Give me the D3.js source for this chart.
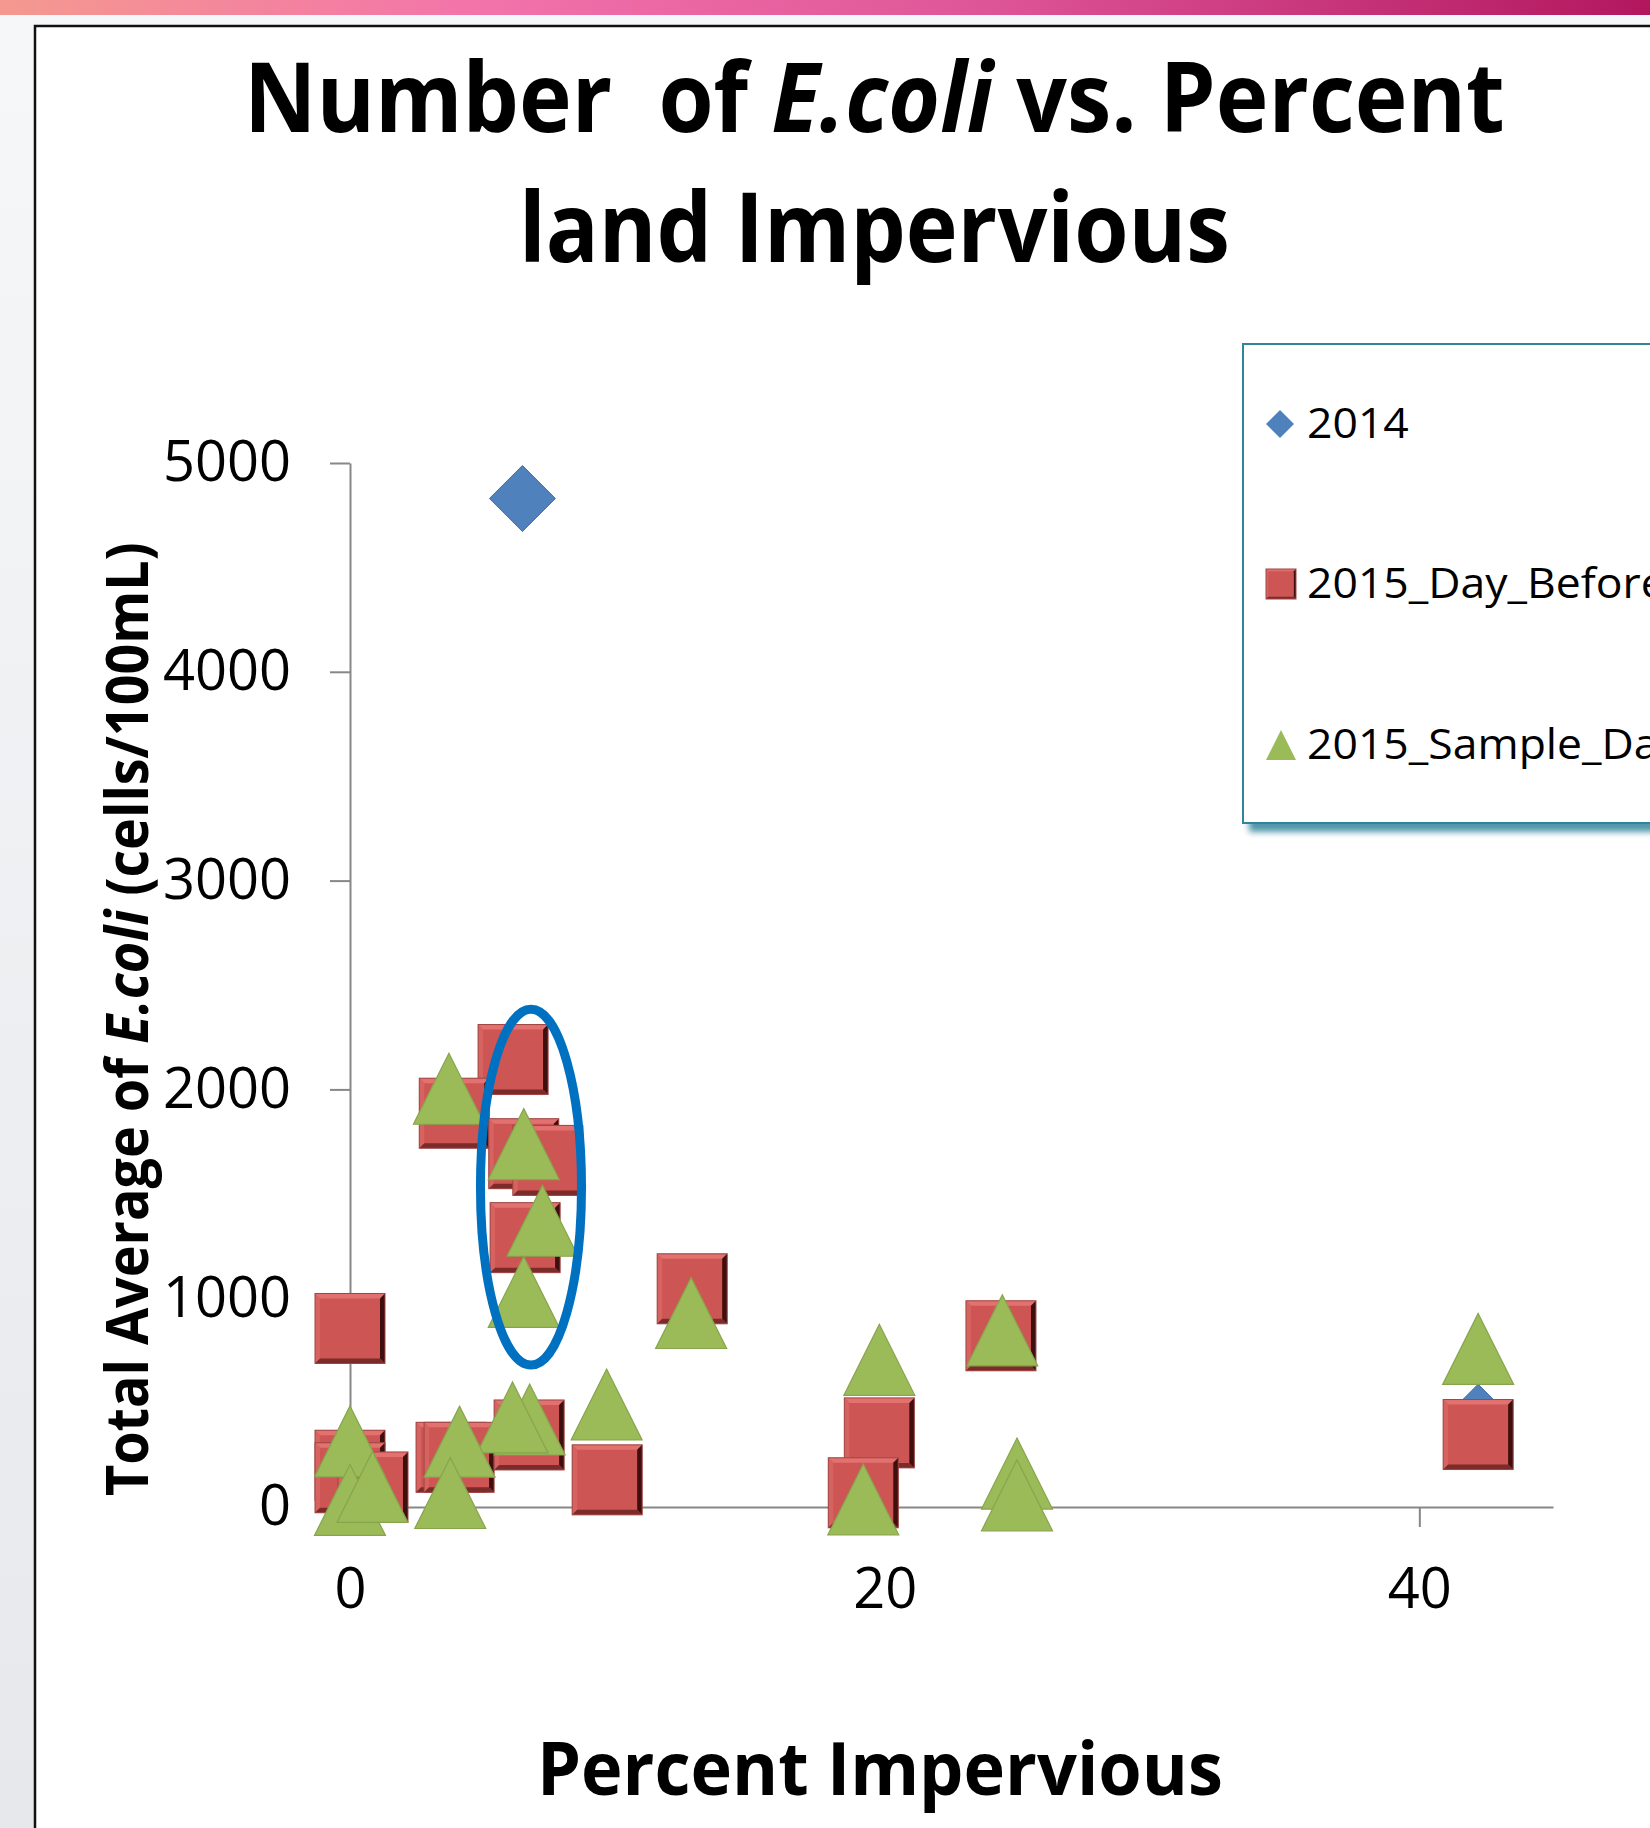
<!DOCTYPE html>
<html><head><meta charset="utf-8">
<script src="https://cdn.jsdelivr.net/npm/d3@7"></script>
<style>
html,body{margin:0;padding:0;background:#fff;overflow:hidden}
text{font-family:"Open Sans","Noto Sans",sans-serif;white-space:pre}
</style></head>
<body>
<svg id="c" width="1650" height="1828"></svg>
<script>
// ---------- data ----------
const seriesNames = ["2014", "2015_Day_Before", "2015_Sample_Day"];
const pct2014   = [6.45, 42.2];
const ecoli2014 = [4830, 430];
const pctDayBefore   = [0, 6.1, 3.9, 6.5, 7.4, 6.55, 12.8, 0, 0, 0.86, 3.78, 4.08, 6.7, 9.62, 19.8, 19.2, 24.35, 42.2];
const ecoliDayBefore = [855, 2143, 1886, 1692, 1660, 1290, 1045, 200, 140, 96, 238, 238, 345, 130, 355, 68, 820, 347];
const pctSampleDay   = [3.7, 6.5, 7.2, 6.5, 12.76, 9.6, 6.72, 6.08, 4.1, 3.75, 0, 0, 0.84, 19.8, 19.2, 24.4, 24.95, 24.95, 42.2];
const ecoliSampleDay = [2003, 1738, 1371, 1030, 929, 491, 419, 429, 313, 67, 314, 34, 96, 705, 36, 846, 160, 56, 757];
const xTicks = [0, 20, 40];
const yTicks = [0, 1000, 2000, 3000, 4000, 5000];
const xDomain = [0, 45];
const yDomain = [0, 5000];
// highlighted cluster (ellipse annotation) in data units: centre %, centre count, half-width %, half-height count
const highlight = {cx: 6.77, cy: 1532, rx: 1.89, ry: 852};

// ---------- drawing ----------
const svg = d3.select("#c");
const defs = svg.append("defs");
const g1 = defs.append("linearGradient").attr("id","topbar");
[["0%","#F5998F"],["30%","#F272AA"],["60%","#DE5597"],["100%","#B2175E"]].forEach(([o,c])=>g1.append("stop").attr("offset",o).attr("stop-color",c));
const g2 = defs.append("linearGradient").attr("id","side").attr("x1",0).attr("y1",0).attr("x2",0).attr("y2",1);
[["0%","#F6F7F8"],["100%","#E6E8EC"]].forEach(([o,c])=>g2.append("stop").attr("offset",o).attr("stop-color",c));
const blur = defs.append("filter").attr("id","blur").attr("x","-10%").attr("y","-10%").attr("width","130%").attr("height","130%");
blur.append("feGaussianBlur").attr("stdDeviation",3);

svg.append("rect").attr("width",1650).attr("height",1828).attr("fill","url(#side)");
svg.append("rect").attr("width",1650).attr("height",15).attr("fill","url(#topbar)");
svg.append("rect").attr("x",35).attr("y",26).attr("width",1700).attr("height",1900)
  .attr("fill","#fff").attr("stroke","#111").attr("stroke-width",2.5);

const x = d3.scaleLinear().domain(xDomain).range([350,1553]);
const y = d3.scaleLinear().domain(yDomain).range([1507,463]);

function fitH(sel, x0, x1){
  const bb = sel.node().getBBox();
  const s = (x1-x0)/bb.width;
  sel.attr("transform",`translate(${x0},0) scale(${s},1) translate(${-bb.x},0)`);
}

// title
const t1 = svg.append("text").attr("y",132).attr("font-size",97).attr("font-weight","bold").attr("fill","#000");
t1.append("tspan").text("Number  of ");
t1.append("tspan").attr("font-style","italic").text("E.coli");
t1.append("tspan").text(" vs. Percent");
fitH(t1, 244, 1505);
const t2 = svg.append("text").attr("y",262).attr("font-size",97).attr("font-weight","bold").attr("fill","#000").text("land Impervious");
fitH(t2, 519, 1230);

// axes
const yAxis = d3.axisLeft(y).tickValues(yTicks).tickSize(20).tickSizeOuter(0).tickPadding(39).tickFormat(d3.format("d"));
const xAxis = d3.axisBottom(x).tickValues(xTicks).tickSize(20).tickSizeOuter(0).tickPadding(41).tickFormat(d3.format("d"));
const ya = svg.append("g").attr("transform",`translate(${x(0)},0)`).call(yAxis);
const xa = svg.append("g").attr("transform",`translate(0,${y(0)})`).call(xAxis);
[ya,xa].forEach(a=>{
  a.select(".domain").attr("stroke","#878787").attr("stroke-width",2);
  a.selectAll(".tick line").attr("stroke","#878787").attr("stroke-width",2);
  a.selectAll(".tick text").attr("font-size",56).attr("fill","#000").attr("font-family","'Open Sans',sans-serif");
});

// axis titles
const xt = svg.append("text").attr("y",1795).attr("font-size",74).attr("font-weight","bold").text("Percent Impervious");
fitH(xt, 537, 1223);
const yt = svg.append("text").attr("font-size",60).attr("font-weight","bold");
yt.append("tspan").text("Total Average of ");
yt.append("tspan").attr("font-style","italic").text("E.coli");
yt.append("tspan").text(" (cells/100mL)");
{
  const bb = yt.node().getBBox();
  const s = (1496-542)/bb.width;
  yt.attr("transform",`translate(148,1496) rotate(-90) scale(${s},1) translate(${-bb.x},0)`);
}

// marker shapes
const SQ = 70, TRI = 71, DIA = 66;
function drawSquare(g, cx, cy, s){
  const h=s/2, l=cx-h, t=cy-h, r=cx+h, b=cy+h, e=Math.max(2, s/14);
  g.append("rect").attr("x",l).attr("y",t).attr("width",s).attr("height",s).attr("fill","#CD5654");
  g.append("polygon").attr("points",`${l},${t} ${r},${t} ${r-e},${t+e} ${l+e},${t+e}`).attr("fill","#E2716F");
  g.append("polygon").attr("points",`${l},${t} ${l+e},${t+e} ${l+e},${b-e} ${l},${b}`).attr("fill","#D66360");
  g.append("polygon").attr("points",`${r},${t} ${r},${b} ${r-e},${b-e} ${r-e},${t+e}`).attr("fill","#3E0F0E");
  g.append("polygon").attr("points",`${l},${b} ${r},${b} ${r-e},${b-e} ${l+e},${b-e}`).attr("fill","#7B2B29");
  g.append("rect").attr("x",l).attr("y",t).attr("width",s).attr("height",s).attr("fill","none").attr("stroke","#9E4644").attr("stroke-width",1);
}
function triPath(cx, cy, w, h){
  return `M${cx},${cy-h/2}L${cx+w/2},${cy+h/2}L${cx-w/2},${cy+h/2}Z`;
}
function diaPath(cx, cy, s){
  const h=s/2;
  return `M${cx},${cy-h}L${cx+h},${cy}L${cx},${cy+h}L${cx-h},${cy}Z`;
}

const plot = svg.append("g");
// 2014 diamonds
plot.selectAll("path.dia").data(pct2014.map((p,i)=>({p, v:ecoli2014[i]}))).join("path")
  .attr("class","dia").attr("d",d=>diaPath(x(d.p), y(d.v), DIA)).attr("fill","#4F81BD").attr("stroke","#466FA6").attr("stroke-width",1);
// 2015 day before squares
const sqData = pctDayBefore.map((p,i)=>({p, v:ecoliDayBefore[i]}));
sqData.forEach(d=>drawSquare(plot.append("g").attr("class","sq"), x(d.p), y(d.v), SQ));
// 2015 sample day triangles
plot.selectAll("path.tri").data(pctSampleDay.map((p,i)=>({p, v:ecoliSampleDay[i]}))).join("path")
  .attr("class","tri").attr("d",d=>triPath(x(d.p), y(d.v), TRI, TRI)).attr("fill","#9BBB59").attr("stroke","#87A44C").attr("stroke-width",1.2);

// highlight ellipse
svg.append("ellipse")
  .attr("cx", x(highlight.cx)).attr("cy", y(highlight.cy))
  .attr("rx", x(highlight.cx+highlight.rx)-x(highlight.cx))
  .attr("ry", y(highlight.cy-highlight.ry)-y(highlight.cy))
  .attr("fill","none").attr("stroke","#0070C0").attr("stroke-width",9);

// legend
const lg = svg.append("g");
lg.append("rect").attr("x",1249).attr("y",352).attr("width",500).attr("height",480).attr("fill","#31849B").attr("opacity",0.85).attr("filter","url(#blur)");
lg.append("rect").attr("x",1243).attr("y",344).attr("width",500).attr("height",479).attr("fill","#fff").attr("stroke","#31849B").attr("stroke-width",2);
const legY = [424, 584, 745];
lg.append("path").attr("d",diaPath(1280, legY[0], 28)).attr("fill","#4F81BD");
drawSquare(lg.append("g"), 1281, legY[1], 30);
lg.append("path").attr("d",triPath(1281, legY[2], 30, 30)).attr("fill","#9BBB59");
seriesNames.forEach((n,i)=>{
  lg.append("text").attr("y",legY[i]+14).attr("font-size",42).attr("fill","#000")
    .attr("transform","translate(1307,0) scale(1.06,1)").text(n);
});
</script>
</body></html>
